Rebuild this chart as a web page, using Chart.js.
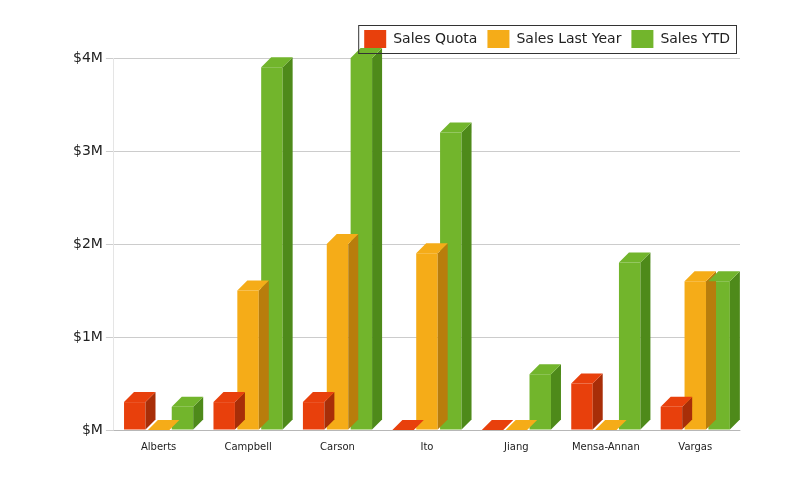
<!DOCTYPE html>
<html><head><meta charset="utf-8">
<script src="https://cdn.jsdelivr.net/npm/chart.js@4"></script>
<style>html,body{margin:0;background:#fff}#w{width:800px;height:496px}</style>
</head><body><div id="w"><canvas id="c"></canvas></div>
<script>
const categories=["Alberts","Campbell","Carson","Ito","Jiang","Mensa-Annan","Vargas"];
const salesQuota=[0.3,0.3,0.3,0,0,0.5,0.25];
const salesLastYear=[0,1.5,2.0,1.9,0,0,1.6];
const salesYTD=[0.25,3.9,4.0,3.2,0.6,1.8,1.6];
const tickLabels=["$M","$1M","$2M","$3M","$4M"];
const cols=["#e8400c","#f5ac18","#72b52c"];
const dark=["#a82e08","#b87d0c","#4e8a1a"];
const depth=10;
const threeD={id:'threeD',afterDatasetsDraw(ch){const c=ch.ctx;
 ch.data.datasets.forEach((ds,i)=>{ch.getDatasetMeta(i).data.forEach(b=>{
  const w=b.width,l=b.x-w/2,r=b.x+w/2,t=b.y,bt=b.base;
  c.fillStyle=dark[i];c.beginPath();c.moveTo(r,t);c.lineTo(r+depth,t-depth);c.lineTo(r+depth,bt-depth);c.lineTo(r,bt);c.fill();
  c.fillStyle=cols[i];c.beginPath();c.moveTo(l,t);c.lineTo(l+depth,t-depth);c.lineTo(r+depth,t-depth);c.lineTo(r,t);c.fill();
 });});}};
const legendBox={id:'legendBox',afterDraw(ch){const L=ch.legend;if(!L||!L.legendHitBoxes.length)return;const h=L.legendHitBoxes;
 const x0=h[0].left-6,x1=h[h.length-1].left+h[h.length-1].width+6,y0=h[0].top-5,y1=h[0].top+h[0].height+5;
 const c=ch.ctx;c.save();c.strokeStyle='#333';c.lineWidth=1;c.strokeRect(x0+.5,y0+.5,x1-x0,y1-y0);c.restore();}};
new Chart(document.getElementById('c'),{type:'bar',plugins:[threeD,legendBox],
data:{labels:categories,datasets:[
 {label:'Sales Quota',data:salesQuota,backgroundColor:cols[0]},
 {label:'Sales Last Year',data:salesLastYear,backgroundColor:cols[1]},
 {label:'Sales YTD',data:salesYTD,backgroundColor:cols[2]}]},
options:{responsive:true,maintainAspectRatio:false,animation:false,
 layout:{padding:{left:70,right:60,top:20,bottom:40}},
 plugins:{legend:{align:'end',labels:{boxWidth:22,boxHeight:18,font:{size:14,family:'DejaVu Sans'},color:'#222'}},tooltip:{enabled:false}},
 scales:{x:{grid:{display:false},ticks:{font:{size:10,family:'DejaVu Sans'},color:'#222'}},
  y:{min:0,max:4,grid:{color:'#ccc'},ticks:{stepSize:1,font:{size:14,family:'DejaVu Sans'},color:'#222',callback:v=>tickLabels[v]}}}}});
</script></body></html>
